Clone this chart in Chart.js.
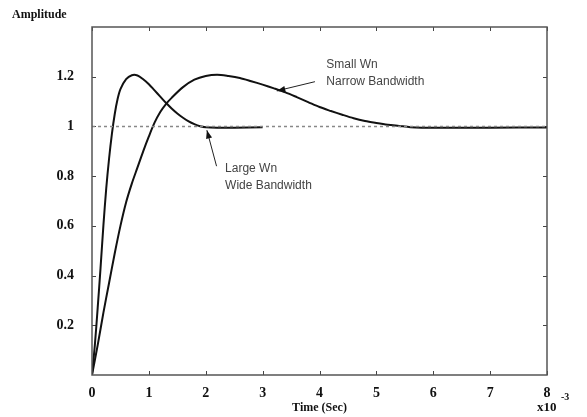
<!DOCTYPE html>
<html>
<head>
<meta charset="utf-8">
<script src="https://cdn.jsdelivr.net/npm/chart.js@4.4.0/dist/chart.umd.min.js"></script>
<style>
  html, body { margin: 0; padding: 0; background: #fff; }
  #wrap { width: 587px; height: 417px; position: relative; }
</style>
</head>
<body>
<div id="wrap"><canvas id="chart"></canvas></div>
<script>
// Step response, time in units of 1e-3 s
const fastTime = [0, 0.05, 0.1, 0.15, 0.2, 0.25, 0.3, 0.35, 0.4, 0.45, 0.5, 0.6, 0.7, 0.8, 0.9, 1.0, 1.1, 1.2, 1.3, 1.4, 1.5, 1.6, 1.7, 1.8, 1.9, 2.0, 2.2, 2.5, 3.0];
const fastAmp  = [0, 0.12, 0.27, 0.43, 0.6, 0.75, 0.87, 0.97, 1.05, 1.11, 1.15, 1.19, 1.206, 1.205, 1.19, 1.17, 1.145, 1.12, 1.095, 1.072, 1.052, 1.035, 1.02, 1.009, 1.001, 0.997, 0.995, 0.995, 0.997];

const slowTime = [0, 0.1, 0.2, 0.3, 0.4, 0.5, 0.6, 0.7, 0.8, 0.9, 1.0, 1.1, 1.2, 1.3, 1.4, 1.6, 1.8, 2.0, 2.2, 2.4, 2.6, 2.8, 3.0, 3.2, 3.4, 3.6, 3.8, 4.0, 4.2, 4.4, 4.6, 4.8, 5.0, 5.2, 5.4, 5.6, 5.8, 6.0, 7.0, 8.0];
const slowAmp  = [0, 0.12, 0.25, 0.37, 0.49, 0.6, 0.695, 0.77, 0.835, 0.9, 0.96, 1.015, 1.058, 1.09, 1.115, 1.158, 1.188, 1.203, 1.208, 1.203, 1.195, 1.182, 1.168, 1.153, 1.137, 1.118, 1.098, 1.078, 1.062, 1.047, 1.033, 1.022, 1.014, 1.007, 1.002, 0.997, 0.995, 0.995, 0.995, 0.996];

const refTime = [0, 8];
const refAmp = [1, 1];

const xTicks = [0, 1, 2, 3, 4, 5, 6, 7, 8];
const yTicks = [0.2, 0.4, 0.6, 0.8, 1, 1.2];

// text notes, placed in data coordinates
const notes = [
    { text: 'Small Wn', x: 4.12, y: 1.248 },
    { text: 'Narrow Bandwidth', x: 4.12, y: 1.18 },
    { text: 'Large Wn', x: 2.34, y: 0.828 },
    { text: 'Wide Bandwidth', x: 2.34, y: 0.76 }
];
const arrows = [
    { fromX: 3.92, fromY: 1.18, toX: 3.25, toY: 1.143 },
    { fromX: 2.19, fromY: 0.84, toX: 2.02, toY: 0.985 }
];

function toPoints(xs, ys) {
    return xs.map((x, i) => ({ x: x, y: ys[i] }));
}

const serifBold = 'bold 12px "Liberation Serif", "DejaVu Serif", serif';

const decorPlugin = {
    id: 'decor',
    beforeDatasetsDraw(chart) {
        const { ctx, chartArea: a, scales: { x, y } } = chart;
        ctx.save();
        ctx.strokeStyle = '#444';
        ctx.lineWidth = 1;
        const len = 4;
        xTicks.forEach(v => {
            const px = Math.round(x.getPixelForValue(v)) + 0.5;
            ctx.beginPath();
            ctx.moveTo(px, a.bottom); ctx.lineTo(px, a.bottom - len);
            ctx.moveTo(px, a.top); ctx.lineTo(px, a.top + len);
            ctx.stroke();
        });
        yTicks.forEach(v => {
            const py = Math.round(y.getPixelForValue(v)) + 0.5;
            ctx.beginPath();
            ctx.moveTo(a.left, py); ctx.lineTo(a.left + len, py);
            ctx.moveTo(a.right, py); ctx.lineTo(a.right - len, py);
            ctx.stroke();
        });
        ctx.restore();
    },
    afterDatasetsDraw(chart) {
        const { ctx, chartArea: a, scales: { x, y } } = chart;
        ctx.save();
        // plot frame
        ctx.strokeStyle = '#555';
        ctx.lineWidth = 1.5;
        ctx.strokeRect(a.left, a.top, a.right - a.left, a.bottom - a.top);

        // notes
        ctx.fillStyle = '#444';
        ctx.font = '12px "Liberation Sans", Arial, sans-serif';
        ctx.textBaseline = 'middle';
        ctx.textAlign = 'left';
        notes.forEach(n => ctx.fillText(n.text, x.getPixelForValue(n.x), y.getPixelForValue(n.y)));

        // arrows
        ctx.strokeStyle = '#222';
        ctx.fillStyle = '#111';
        ctx.lineWidth = 1;
        arrows.forEach(ar => {
            const x1 = x.getPixelForValue(ar.fromX), y1 = y.getPixelForValue(ar.fromY);
            const x2 = x.getPixelForValue(ar.toX), y2 = y.getPixelForValue(ar.toY);
            ctx.beginPath();
            ctx.moveTo(x1, y1); ctx.lineTo(x2, y2);
            ctx.stroke();
            const ang = Math.atan2(y2 - y1, x2 - x1);
            const hl = 9, hw = 0.35;
            ctx.beginPath();
            ctx.moveTo(x2, y2);
            ctx.lineTo(x2 - hl * Math.cos(ang - hw), y2 - hl * Math.sin(ang - hw));
            ctx.lineTo(x2 - hl * Math.cos(ang + hw), y2 - hl * Math.sin(ang + hw));
            ctx.closePath();
            ctx.fill();
        });

        // axis titles
        ctx.fillStyle = '#111';
        ctx.font = serifBold;
        ctx.textAlign = 'left';
        ctx.textBaseline = 'alphabetic';
        ctx.fillText('Amplitude', 12, 18);
        ctx.textAlign = 'center';
        ctx.fillText('Time (Sec)', (a.left + a.right) / 2, 411);
        ctx.textAlign = 'left';
        ctx.font = 'bold 13px "Liberation Serif", "DejaVu Serif", serif';
        ctx.fillText('x10', 537, 411);
        ctx.font = 'bold 10px "Liberation Serif", "DejaVu Serif", serif';
        ctx.fillText('-3', 561, 400);
        ctx.restore();
    }
};

const ctx = document.getElementById('chart').getContext('2d');
new Chart(ctx, {
    type: 'scatter',
    data: {
        datasets: [
            {
                data: toPoints(refTime, refAmp),
                showLine: true,
                borderColor: '#888',
                borderWidth: 1.5,
                borderDash: [3, 3],
                pointRadius: 0
            },
            {
                data: toPoints(fastTime, fastAmp),
                showLine: true,
                borderColor: '#111',
                borderWidth: 2,
                tension: 0.3,
                pointRadius: 0
            },
            {
                data: toPoints(slowTime, slowAmp),
                showLine: true,
                borderColor: '#111',
                borderWidth: 2,
                tension: 0.3,
                pointRadius: 0
            }
        ]
    },
    options: {
        responsive: true,
        maintainAspectRatio: false,
        animation: false,
        layout: { padding: { top: 27, right: 40, left: 0, bottom: 0 } },
        plugins: {
            legend: { display: false },
            tooltip: { enabled: false }
        },
        scales: {
            x: {
                type: 'linear',
                min: 0,
                max: 8,
                border: { display: false },
                grid: { display: false },
                afterFit(scale) { scale.height = 42; },
                afterBuildTicks(scale) { scale.ticks = xTicks.map(v => ({ value: v })); },
                ticks: {
                    color: '#111',
                    padding: 2,
                    maxRotation: 0,
                    font: { family: '"Liberation Serif", "DejaVu Serif", serif', size: 14, weight: 'bold' }
                }
            },
            y: {
                type: 'linear',
                min: 0,
                max: 1.4,
                border: { display: false },
                grid: { display: false },
                afterFit(scale) { scale.width = 92; },
                afterBuildTicks(scale) { scale.ticks = yTicks.map(v => ({ value: v })); },
                ticks: {
                    color: '#111',
                    padding: 10,
                    callback: v => String(Math.round(v * 10) / 10),
                    font: { family: '"Liberation Serif", "DejaVu Serif", serif', size: 14, weight: 'bold' }
                }
            }
        }
    },
    plugins: [decorPlugin]
});
</script>
</body>
</html>
